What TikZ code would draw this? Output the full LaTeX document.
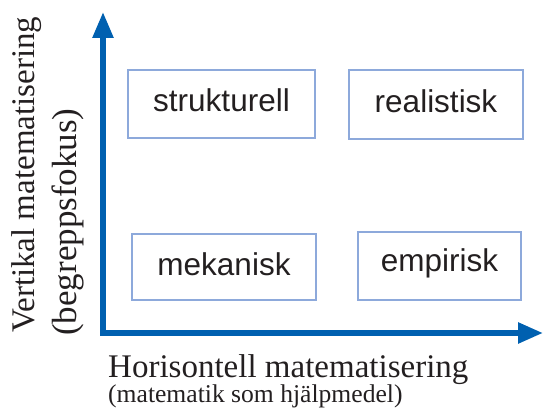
\documentclass[tikz,border=0pt]{standalone}
\usepackage{fontspec}
\setmainfont{Liberation Serif}
\newfontfamily\boxfont{Liberation Sans}
\usetikzlibrary{arrows.meta}
\definecolor{axisblue}{HTML}{0060B0}
\definecolor{boxblue}{HTML}{8DA9DB}
\definecolor{txt}{HTML}{231F20}
\tikzset{
  axisline/.style={draw=axisblue, line width=5.5pt, line join=miter,
    {Triangle[length=26pt,width=20pt]}-{Triangle[length=25pt,width=20pt]}},
  quadbox/.style={draw=boxblue, line width=1.2pt, text=txt,
    font=\boxfont\fontsize{31.5}{36}\selectfont, inner sep=0pt,
    text height=23pt, text depth=7pt},
  axlabel/.style={text=txt, inner sep=0pt}
}
\begin{document}
\begin{tikzpicture}[x=1pt,y=1pt]
\useasboundingbox (0,0) rectangle (544,411);
% axes
\coordinate (O) at (103,78);
\coordinate (ytip) at (103,399);
\coordinate (xtip) at (543,78);
\draw[axisline] (ytip) -- (O) -- (xtip);
% quadrant boxes
\node[quadbox, minimum width=187pt, minimum height=68pt] (strukturell) at (221.5,307) {strukturell};
\node[quadbox, minimum width=174pt, minimum height=69pt] (realistisk) at (436,306.5) {realistisk};
\node[quadbox, minimum width=184pt, minimum height=66pt, text height=24pt, text depth=6pt] (mekanisk) at (224,144) {mekanisk};
\node[quadbox, minimum width=163pt, minimum height=68pt, text height=23pt, text depth=11.5pt] (empirisk) at (439.5,145) {empirisk};
% axis labels
\node[axlabel, anchor=base west, font=\fontsize{33}{38}\selectfont] (hlab1) at (108,33) {Horisontell matematisering};
\node[axlabel, anchor=base west, font=\fontsize{25.6}{30}\selectfont] (hlab2) at (108,8) {(matematik som hjälpmedel)};
\node[axlabel, anchor=base west, rotate=90, font=\fontsize{33}{38}\selectfont] (vlab1) at (34,78) {Vertikal matematisering};
\node[axlabel, anchor=base west, rotate=90, font=\fontsize{35}{40}\selectfont] (vlab2) at (76,75) {(begreppsfokus)};
\end{tikzpicture}
\end{document}
